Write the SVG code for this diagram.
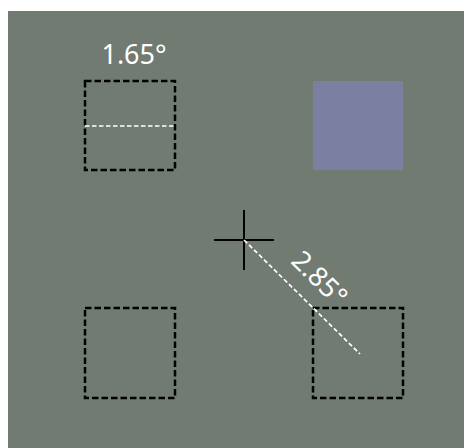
<svg xmlns="http://www.w3.org/2000/svg" width="464" height="448" viewBox="0 0 464 448">
<style>
.box{fill:none;stroke:#000;stroke-width:2.5;stroke-dasharray:6.5 3}
.wd{fill:none;stroke:#fff;stroke-width:1.7;stroke-dasharray:4.5 2.5}
.lbl{font-family:"Noto Sans","Open Sans",sans-serif;font-size:27px;fill:#fff;text-anchor:middle}
</style>
<rect x="8" y="11" width="456" height="437" fill="#727b72"/>
<g id="box-top-left">
<rect class="box" x="85" y="81" width="90" height="89"/>
<line class="wd" x1="85" y1="126" x2="175" y2="126"/>
<text class="lbl" x="134" y="64">1.65°</text>
</g>
<g id="square-top-right">
<rect x="313" y="81" width="90" height="89" fill="#7b80a0"/>
</g>
<g id="box-bottom-left">
<rect class="box" x="85" y="308" width="90" height="90"/>
</g>
<g id="box-bottom-right">
<rect class="box" x="313" y="308" width="90" height="90"/>
</g>
<g id="crosshair">
<line x1="214" y1="240" x2="274" y2="240" stroke="#000" stroke-width="2"/>
<line x1="244" y1="210" x2="244" y2="270" stroke="#000" stroke-width="2"/>
</g>
<g id="connectors">
<line class="wd" x1="244" y1="240" x2="360" y2="354"/>
<text class="lbl" transform="translate(313,285) rotate(44.5)">2.85°</text>
</g>
</svg>
